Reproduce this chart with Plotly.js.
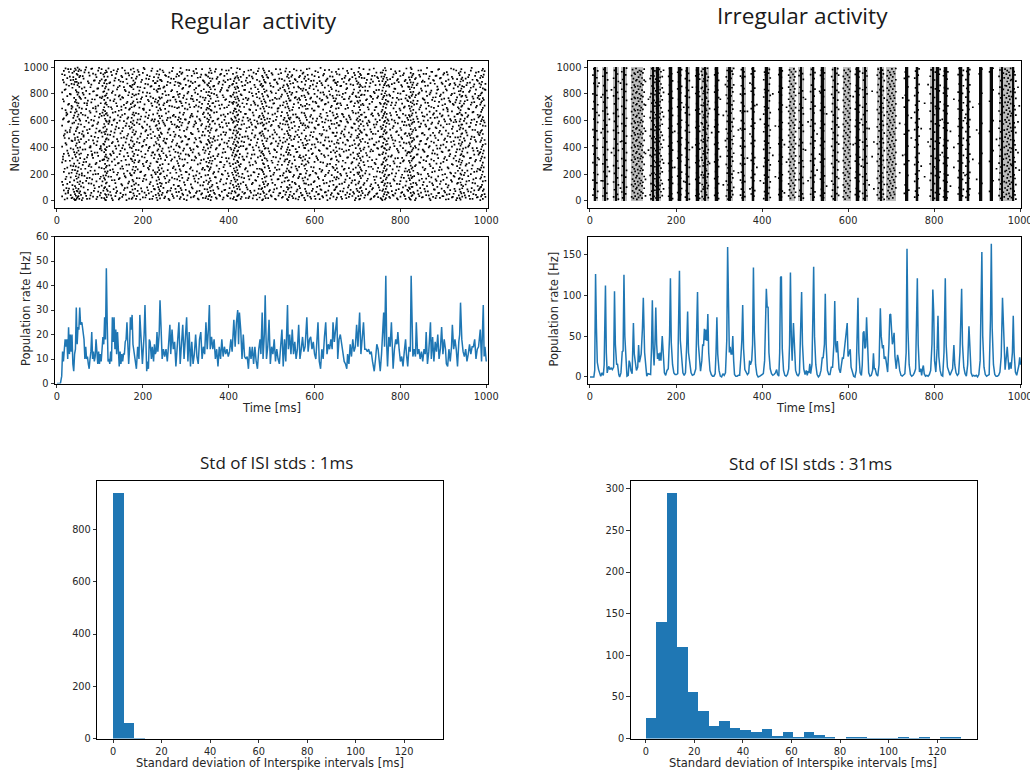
<!DOCTYPE html>
<html><head><meta charset="utf-8">
<script src="https://cdn.plot.ly/plotly-3.0.1.min.js"></script>
<style>html,body{margin:0;padding:0;background:#fff}#c{width:1030px;height:772px}</style>
</head><body><div id="c"></div>
<script>
// Rate curves and histograms are read from the picture. The raster dots are a thinned, hand-typed
// estimate that follows the visible density: single spikes cannot be resolved in the reference.
const histBins=[2.17,6.5,10.83,15.17,19.5,23.83,28.17,32.5,36.83,41.17,45.5,49.83,54.17,58.5,62.83,67.17,71.5,75.83,80.17,84.5,88.83,93.17,97.5,101.83,106.17,110.5,114.83,119.17,123.5,127.83];
const histRegular=[942,58,2,0,0,0,0,0,0,0,0,0,0,0,0,0,0,0,0,0,0,0,0,0,0,0,0,0,0,0];
const histIrregular=[25,140,295,110,56,33,15,21,13,10,8,11,3,8,2,8,4,2,0,2,2,1,1,1,2,1,2,0,2,2];
const rateRegular=[[0,0],[8,0],[11,3],[13,13],[15,9],[17,13],[19,18],[21,15],[23,18],[25,10],[27,23],[29,12],[31,20],[33,13],[35,20],[37,8],[39,5],[41,12],[43,14],[45,31],[47,16],[49,23],[51,22],[53,31],[55,24],[58,25],[60,22],[63,18],[65,10],[67,15],[69,10],[71,11],[73,8],[75,6],[77,10],[79,13],[81,21],[83,10],[85,13],[87,9],[89,11],[91,18],[93,13],[95,8],[97,13],[99,8],[101,12],[103,9],[105,14],[107,19],[109,16],[111,27],[113,18],[115,47],[117,25],[119,9],[121,10],[123,8],[125,13],[127,9],[129,27],[131,17],[133,27],[135,14],[137,22],[139,12],[141,21],[143,10],[145,7],[147,13],[149,8],[151,12],[153,9],[155,12],[157,12],[159,17],[161,18],[163,25],[165,13],[167,8],[169,14],[171,27],[173,22],[175,28],[177,16],[179,13],[182,10],[185,6],[188,15],[191,10],[193,28],[195,20],[197,13],[199,8],[201,14],[203,20],[205,32],[207,12],[209,5],[211,9],[213,6],[215,18],[217,17],[220,10],[222,15],[225,9],[227,16],[229,12],[231,13],[233,21],[235,13],[238,20],[240,34],[242,25],[245,10],[248,14],[251,11],[254,14],[257,9],[260,16],[263,24],[265,12],[268,22],[271,14],[274,17],[277,7],[280,15],[284,25],[287,8],[290,18],[293,24],[296,10],[299,17],[302,27],[305,9],[308,21],[311,7],[314,17],[317,8],[320,12],[323,20],[326,11],[329,8],[332,18],[335,21],[338,10],[341,15],[344,12],[347,25],[350,14],[353,23],[355,32],[357,14],[360,19],[363,14],[366,18],[369,10],[372,14],[375,7],[378,15],[381,10],[384,18],[387,11],[390,15],[393,12],[396,14],[399,11],[402,13],[405,18],[408,13],[412,26],[415,15],[418,25],[421,30],[423,16],[425,29],[428,22],[431,10],[434,20],[437,11],[440,10],[443,11],[446,6],[449,15],[452,10],[455,15],[458,8],[461,15],[464,9],[467,6],[470,14],[473,18],[475,12],[478,29],[480,10],[483,20],[485,36],[488,10],[491,15],[494,26],[497,8],[500,15],[503,12],[506,18],[509,9],[512,14],[515,10],[518,8],[521,15],[524,22],[527,7],[530,18],[533,9],[535,17],[537,32],[539,14],[542,20],[545,12],[548,22],[551,12],[554,17],[557,10],[560,14],[563,24],[566,10],[569,14],[572,19],[575,13],[578,15],[582,27],[585,13],[588,18],[591,19],[594,14],[597,17],[600,12],[603,10],[605,16],[608,25],[611,9],[614,6],[617,14],[620,10],[623,19],[626,25],[629,12],[632,16],[635,14],[638,18],[641,14],[643,25],[646,17],[649,22],[652,27],[654,10],[657,18],[660,20],[663,16],[666,12],[669,9],[672,8],[675,6],[677,12],[680,8],[683,16],[686,11],[689,18],[692,13],[695,15],[698,24],[701,15],[703,20],[705,29],[708,12],[711,18],[714,25],[717,14],[720,14],[723,13],[726,14],[729,12],[732,13],[735,9],[739,5],[742,10],[745,16],[748,14],[751,8],[753,5],[756,12],[759,20],[761,29],[763,15],[766,44],[768,16],[770,7],[773,19],[776,15],[779,25],[781,13],[783,6],[786,14],[789,18],[792,16],[794,21],[797,14],[800,9],[803,11],[806,7],[809,13],[812,18],[814,12],[817,7],[820,15],[823,13],[825,44],[827,25],[829,11],[832,14],[835,11],[837,25],[840,12],[843,14],[846,10],[849,13],[852,9],[855,14],[858,12],[860,21],[863,8],[866,13],[870,25],[872,10],[875,19],[878,9],[881,17],[884,13],[887,20],[890,10],[893,14],[896,23],[899,12],[902,18],[905,14],[907,8],[910,7],[913,14],[916,9],[919,15],[921,24],[924,14],[927,18],[930,14],[933,7],[936,17],[938,20],[940,33],[943,18],[946,13],[949,11],[952,14],[955,9],[958,12],[961,16],[964,12],[967,15],[970,15],[973,18],[976,10],[979,14],[982,15],[984,20],[986,22],[989,9],[991,25],[993,32],[995,11],[997,15],[1000,9]];
const rateIrregular=[[0,0],[9,0],[11,8],[13,126],[15,60],[17,18],[20,9],[23,3],[25,1],[28,5],[31,2],[33,15],[36,112],[38,30],[40,5],[42,10],[44,13],[46,9],[49,11],[52,9],[55,12],[57,105],[59,40],[62,15],[64,16],[67,3],[69,0],[72,5],[75,31],[77,32],[79,125],[81,50],[84,12],[86,1],[89,2],[91,20],[93,17],[95,8],[98,4],[101,66],[103,28],[106,10],[108,8],[111,12],[113,39],[115,18],[117,22],[119,28],[122,60],[124,97],[127,30],[130,8],[132,1],[135,4],[138,3],[141,3],[143,35],[145,94],[147,35],[149,14],[151,40],[153,85],[155,40],[157,22],[159,29],[161,20],[163,30],[165,20],[168,50],[170,25],[173,5],[176,2],[179,8],[182,10],[185,50],[187,121],[189,42],[192,15],[195,5],[198,3],[201,3],[204,4],[206,50],[208,130],[210,45],[213,18],[216,5],[219,2],[222,5],[225,40],[227,80],[229,30],[232,15],[235,5],[238,2],[242,3],[246,10],[248,68],[250,104],[252,40],[255,10],[257,7],[260,20],[262,40],[264,38],[266,59],[268,45],[270,58],[272,44],[274,77],[276,30],[279,8],[282,3],[285,1],[288,1],[291,4],[293,30],[295,73],[297,28],[300,8],[303,1],[306,0],[309,4],[312,2],[315,5],[318,45],[320,159],[322,60],[324,30],[326,37],[328,28],[330,28],[332,50],[334,20],[336,3],[339,1],[342,1],[345,2],[348,2],[351,26],[353,45],[355,88],[357,35],[360,9],[363,6],[366,3],[369,5],[371,20],[373,15],[376,20],[378,40],[380,134],[382,55],[385,15],[388,3],[391,0],[395,1],[399,2],[403,4],[406,20],[408,60],[410,108],[412,85],[414,86],[416,30],[419,10],[422,4],[425,2],[428,3],[431,5],[434,9],[436,3],[439,1],[441,30],[443,122],[445,123],[447,35],[450,8],[453,2],[456,1],[459,3],[462,10],[464,40],[466,128],[468,50],[470,20],[473,66],[475,35],[478,8],[481,3],[484,1],[487,5],[490,60],[492,104],[494,40],[497,10],[500,3],[503,8],[505,2],[507,7],[509,5],[511,16],[513,4],[516,15],[518,70],[520,135],[522,50],[525,15],[528,3],[531,0],[534,2],[537,8],[540,24],[542,23],[545,40],[547,102],[549,40],[552,8],[555,3],[558,3],[561,12],[564,12],[567,40],[569,93],[571,40],[573,30],[575,44],[577,30],[579,10],[582,5],[585,16],[587,24],[589,22],[592,35],[595,50],[598,66],[600,25],[602,30],[605,34],[607,12],[610,5],[613,1],[616,0],[619,8],[621,50],[623,97],[625,30],[628,5],[631,2],[633,15],[635,54],[637,56],[639,35],[641,37],[643,73],[645,35],[648,5],[651,1],[654,2],[657,8],[659,29],[661,10],[663,10],[666,3],[669,1],[672,15],[675,84],[677,50],[680,35],[682,39],[684,22],[687,25],[690,15],[692,6],[695,40],[697,76],[699,77],[701,45],[703,40],[705,45],[707,54],[709,25],[712,10],[715,27],[717,22],[720,8],[723,2],[726,1],[729,2],[732,4],[735,30],[737,157],[739,60],[742,15],[745,3],[748,1],[751,2],[754,5],[757,10],[759,70],[761,121],[763,40],[766,6],[769,10],[771,2],[773,10],[775,14],[777,4],[780,1],[783,2],[786,1],[789,3],[792,8],[795,40],[797,107],[799,80],[801,20],[804,6],[807,35],[809,75],[811,25],[814,8],[817,2],[820,1],[823,30],[826,121],[828,40],[831,12],[834,5],[837,2],[840,6],[843,10],[846,39],[848,15],[851,5],[854,2],[857,4],[860,30],[864,108],[866,40],[869,12],[872,4],[875,1],[878,15],[881,62],[883,30],[886,5],[889,1],[892,2],[895,1],[898,2],[901,0],[904,3],[907,20],[909,80],[911,153],[913,50],[916,12],[919,3],[922,1],[925,2],[928,3],[931,70],[933,163],[935,60],[938,15],[941,3],[944,1],[947,1],[950,2],[953,6],[956,25],[959,97],[961,74],[963,50],[965,9],[968,25],[970,37],[972,22],[974,9],[977,18],[979,10],[982,30],[984,75],[986,30],[989,6],[992,2],[995,8],[997,14],[999,24],[1001,15]];
// each row: [time, neuron, neuron, ...]
const regularSpikes=[
[12,33,142,287,405,563,691,812,947],[16,78,216,352,488,617,744,886,972],[20,54,163,299,431,526,678,835,991],[24,19,127,248,376,512,649,783,918],[28,91,205,338,467,594,726,861,964],[32,42,176,264,392,548,663,797,903,985],[36,25,118,231,318,447,579,702,846,957],[40,12,67,153,278,364,497,585,638,771,872,968],[44,8,38,96,184,257,329,413,522,601,684,755,828,911,979],[48,27,71,139,222,303,396,476,552,629,713,794,865,942,996],[52,15,58,124,196,281,347,439,508,612,697,779,853,926,983],[56,44,108,238,354,462,571,658,762,884,975],[60,21,135,269,383,519,644,807,933],[64,62,187,312,428,553,731,849,961],[68,37,149,291,441,598,686,823,998],[72,83,211,344,506,622,749,894],[76,16,172,273,399,537,672,801,937],[80,59,128,253,371,484,606,736,869,988],[84,31,197,322,453,564,693,818,952],[88,94,226,361,479,633,758,902],[92,13,146,284,417,541,667,789,926],[96,69,201,336,472,587,712,841,974],[100,41,165,297,389,526,651,774,897],[104,22,113,244,378,511,636,768,909,985],[108,76,189,308,426,547,681,815,946],[112,9,51,103,158,219,276,331,387,443,499,556,614,671,728,786,842,899,958],[116,28,86,137,207,262,325,402,468,534,592,657,719,803,876,963],[120,47,181,315,458,576,704,832,991],[124,66,229,349,493,624,752,887],[128,18,154,293,432,569,687,808,941],[132,88,214,357,481,602,746,863,977],[136,35,132,266,409,535,666,792,918],[140,73,195,328,461,583,709,834,969],[144,11,162,283,415,544,674,781,905],[148,57,241,373,504,627,759,893],[152,29,116,258,394,521,642,776,925,995],[156,81,204,333,474,596,718,851],[160,46,175,306,438,561,695,821,954],[164,99,224,359,487,615,741,878],[168,17,143,271,421,558,683,812,938],[172,64,192,316,452,589,724,856,982],[176,24,84,156,233,296,368,445,513,578,646,733,799,868,947],[180,39,121,209,286,351,424,496,567,639,707,788,873,966],[184,14,131,254,381,518,656,795,914],[188,74,236,342,466,608,737,852,979],[192,52,169,301,434,574,698,825,943],[196,93,218,369,503,631,763,889],[200,26,147,277,412,546,689,811,957],[204,61,186,324,457,593,721,844,986],[208,43,159,289,419,529,661,783,915],[212,79,246,375,491,619,755,871],[216,12,125,259,403,555,679,805,932],[220,68,193,339,469,601,729,858,973],[224,34,111,228,363,515,647,769,898],[228,85,213,346,483,609,743,881],[232,23,151,294,427,566,701,826,949],[236,56,102,178,249,313,386,455,528,597,676,748,837,922],[240,19,72,134,199,267,335,408,477,542,618,692,765,839,906,984],[244,45,129,243,372,501,634,772,896],[248,97,221,356,448,586,716,847,962],[252,32,167,304,436,562,688,819,940],[256,63,188,327,464,604,738,866],[260,15,141,274,398,532,668,793,927],[264,77,208,341,492,623,751,883],[268,49,174,311,442,573,706,829,971],[272,21,119,256,384,517,643,778,912],[276,89,234,366,495,628,757,891],[280,36,161,298,429,559,694,816,948],[284,67,112,183,261,332,407,486,551,625,699,777,859,935],[288,28,95,223,353,474,613,742,874,993],[292,54,171,309,446,584,711,838,959],[296,13,138,268,391,524,659,787,908],[300,82,216,348,478,607,734,867],[304,41,155,285,422,549,685,804,936],[308,71,198,337,463,591,722,855,978],[312,26,123,251,379,509,637,764,892],[316,92,227,362,498,632,761,880],[320,38,166,302,435,570,703,831,953],[324,59,191,321,459,582,714,843,987],[328,17,136,272,404,539,669,798,921],[332,75,206,343,471,611,739,864],[336,48,179,305,437,565,696,822,945],[340,22,115,247,382,516,648,773,901],[344,87,232,358,489,626,753,885],[348,33,152,292,425,556,682,814,939],[352,12,65,126,194,255,319,393,456,523,590,654,725,790,862,930],[356,44,98,168,237,300,367,433,510,572,641,708,784,850,917,990],[360,29,107,279,416,543,675,806,955],[364,78,203,334,465,599,732,857],[368,51,177,314,451,577,705,833,967],[372,16,133,263,395,533,664,791,913],[376,91,219,350,485,616,747,877],[380,37,145,290,423,554,690,817,944],[384,69,200,326,460,588,720,845,981],[388,24,122,252,388,514,645,775,899],[392,83,225,365,494,630,756,888],[396,40,164,295,430,560,700,827,951],[400,58,185,317,449,581,715,848,976],[404,19,130,260,397,531,662,785,910],[408,73,210,340,473,605,735,870],[412,27,101,173,242,310,377,440,527,595,673,740,809,895],[416,8,62,144,215,282,345,418,490,557,621,686,760,836,924],[420,35,90,157,230,299,370,444,507,568,640,710,780,854,934,992],[424,47,106,182,265,323,401,468,540,610,677,750,820,904],[428,14,128,275,410,536,665,796,928],[432,66,202,330,476,600,730,860],[436,53,170,307,439,575,702,830,965],[440,21,117,245,385,520,650,770,900],[444,86,220,355,482,620,754,882],[448,31,160,288,420,552,684,813,937],[452,61,190,318,454,585,717,840,980],[456,18,134,270,400,530,660,786,916],[460,76,212,347,475,603,733,868],[464,42,150,283,414,547,678,800,950],[468,56,180,325,462,578,712,835,970],[472,25,114,240,376,505,635,767,894],[476,88,235,360,488,612,744,875],[480,11,70,140,217,280,352,426,500,563,638,704,782,860,923,989],[484,36,104,176,250,320,390,470,538,605,670,745,815,890,960],[488,49,183,313,447,580,708,824,942],[492,20,127,262,392,525,655,779,920],[496,80,224,354,480,614,749,879],[500,33,158,300,431,568,697,810,956],[504,64,196,329,467,596,727,853],[508,15,120,248,380,512,652,771,907],[512,93,231,364,497,629,762,886],[516,39,163,294,428,561,693,828,947],[520,57,187,316,450,579,713,842,983],[524,23,137,269,406,534,663,794,911],[528,74,207,338,472,606,736,864],[532,46,172,308,443,571,699,819,968],[536,12,103,175,241,312,383,458,522,594,658,728,803,872,929],[540,28,96,154,226,287,359,424,491,550,619,691,766,841,919],[544,68,214,344,486,623,752,876],[548,35,142,278,411,544,680,807,941],[552,52,193,331,461,590,724,849,985],[556,17,125,257,387,518,647,776,903],[560,84,228,367,493,627,758,891],[564,30,110,181,254,327,402,477,553,617,695,768,846,925],[568,60,199,322,457,582,718,837,975],[572,43,168,301,434,566,706,825,952],[576,22,131,264,396,528,656,788,914],[580,71,129,205,273,342,419,484,545,624,687,755,830,897],[584,38,161,296,427,558,689,811,943],[588,55,189,319,455,587,719,844,990],[592,16,123,253,389,513,642,772,898],[596,90,222,356,479,615,743,869],[600,34,148,291,422,548,676,801,933],[604,67,204,333,466,597,731,856],[608,48,177,306,440,569,707,826,962],[612,13,112,239,374,502,633,764,895],[616,81,218,351,490,622,750,881],[620,26,155,286,417,551,683,812,938],[624,63,184,328,452,586,721,847,978],[628,41,135,260,393,526,659,781,906],[632,77,209,339,474,601,737,863],[636,19,146,276,409,540,671,795,931],[640,58,192,315,445,576,711,836,964],[644,32,119,246,378,508,640,769,900],[648,86,229,361,483,616,747,884],[652,24,106,178,243,304,371,436,510,583,649,723,792,866,949],[656,50,167,293,430,564,694,818,986],[660,72,201,335,469,599,729,858],[664,15,128,258,386,519,651,777,912],[668,92,233,368,496,628,760,889],[672,44,159,285,421,555,688,808,935],[676,61,186,323,456,592,716,843,972],[680,29,116,244,381,511,637,765,902],[684,82,215,346,478,609,740,871],[688,36,151,289,416,546,674,798,926],[692,54,194,320,453,577,709,833,957],[696,20,121,249,395,527,654,784,915],[700,75,211,349,487,618,746,874],[704,11,65,143,213,281,356,425,499,560,631,701,775,851,928,995],[708,40,100,170,236,303,373,442,515,574,644,717,790,859,940],[712,57,188,330,464,595,726,850],[716,23,132,267,399,532,661,793,918],[720,88,225,358,495,626,754,883],[724,47,165,298,432,565,700,822,948],[728,69,198,326,460,589,725,854,982],[732,17,124,255,384,516,646,778,909],[736,95,238,372,501,635,763,892],[740,37,156,284,418,549,679,806,936],[744,52,181,311,438,572,703,829,960],[748,27,118,247,390,521,653,782,917],[752,79,217,343,476,604,734,870],[756,13,139,271,404,537,667,799,930],[760,33,85,152,223,290,362,433,498,567,636,705,774,848,913,977],[764,10,66,128,197,259,324,391,459,530,598,664,732,805,877,945,994],[768,44,108,174,235,309,379,447,512,581,650,722,789,861,921],[772,59,191,332,468,600,742,865],[776,21,130,261,400,533,657,785,910],[780,73,206,340,473,607,735,873],[784,39,160,295,429,559,692,816,946],[788,55,182,317,451,584,715,838,969],[792,18,127,256,388,520,643,770,901],[796,87,227,363,492,625,757,888],[800,31,147,282,413,545,677,802,934],[804,65,195,321,463,593,728,855],[808,46,171,302,435,567,698,821,954],[812,14,113,242,375,506,639,766,905],[816,83,220,355,485,620,751,880],[820,25,99,169,232,299,365,437,503,570,641,710,780,852,924],[824,8,60,126,190,263,334,408,471,536,603,672,738,813,887,958,997],[828,42,104,179,251,314,382,448,517,585,655,730,797,868,939],[832,56,185,327,458,591,720,845],[836,19,133,268,397,529,660,791,919],[840,76,210,347,482,613,748,878],[844,35,153,288,423,553,685,809,943],[848,62,197,325,449,578,714,839,976],[852,28,120,250,383,507,634,767,899],[856,89,230,366,494,630,756,890],[860,43,166,297,426,557,690,817,950],[864,70,202,336,470,602,733,862],[868,16,141,274,410,541,668,796,932],[872,51,175,310,444,575,702,824,966],[876,30,117,245,377,509,645,773,904],[880,84,221,353,488,621,745,876],[884,38,149,279,414,543,673,804,937],[888,58,183,319,454,580,708,835,981],[892,22,126,252,392,523,652,783,916],[896,91,234,369,497,632,759,885],[900,34,157,292,420,550,682,810,944],[904,63,199,328,465,594,723,857],[908,47,173,305,441,573,696,827,963],[912,12,115,243,376,504,638,768,907],[916,80,212,350,479,612,741,875],[920,26,144,275,405,539,670,800,928],[924,53,187,318,446,588,718,841,984],[928,72,208,337,475,606,737,867],[932,20,129,259,385,522,649,774,911],[936,40,164,293,428,562,691,820,955],[940,9,67,137,204,270,341,412,480,547,611,678,747,823,893,967],[944,31,94,162,228,300,370,439,505,571,640,712,786,858,922],[948,59,192,331,467,598,727,852],[952,24,122,264,398,525,658,787,914],[956,85,226,360,490,628,753,882],[960,37,150,283,415,554,686,815,942],[964,66,200,322,462,583,719,846,974],[968,15,134,265,394,531,662,779,906],[972,78,216,345,477,610,739,872],[976,45,170,307,443,568,699,832,959],[980,28,111,240,374,514,644,771,897],[984,90,235,357,491,633,761,879],[988,33,105,176,248,316,386,452,524,597,665,735,803,870,936],[992,14,74,146,219,286,354,419,500,563,626,695,769,842,925,988],[996,50,180,323,455,586,713,834,970]];
const regularSpikesExtra=[
[14,120,310,330,610,760,905],[18,10,240,470,500,830,940],[22,95,180,420,640,660,870],[26,60,75,355,590,720,985],[30,140,300,515,530,800,930],[34,20,210,450,690,710,875],[38,85,260,385,620,905,925],[42,5,50,110,230,345,455,470,660,740,890,990],[46,18,75,165,205,360,430,540,670,735,815,890,950],[50,35,90,175,250,375,455,575,645,730,810,880,970],[54,70,145,320,400,600,770,935],[58,5,190,205,500,690,840],[62,100,290,480,490,795,915],[66,55,240,385,640,770,980],[70,15,170,325,530,715,730],[74,130,260,455,585,880,960],[78,40,225,400,410,660,850],[82,160,340,350,560,760,990],[86,75,115,430,600,820,900],[90,200,275,510,690,705,945],[94,30,360,445,575,790,840],[98,105,250,520,625,880,995],[102,60,180,395,410,730,955],[106,145,305,480,660,780,860],[110,20,95,170,240,310,365,420,515,575,640,700,755,820,880,930],[114,5,45,130,190,250,345,380,460,520,600,650,735,790,855,905,975],[118,75,220,300,495,640,770,930],[122,110,265,410,590,600,880],[126,40,180,340,520,700,965],[130,5,235,370,440,660,820],[134,155,310,510,610,760,900],[138,60,100,390,555,730,950],[142,210,280,445,640,850,985],[146,20,170,350,600,790,860],[150,125,300,470,680,705,935],[154,45,240,415,545,770,890],[158,95,185,385,650,830,975],[162,5,270,465,580,730,910],[166,130,335,500,625,790,955],[170,65,205,400,540,690,860],[174,15,110,190,310,395,475,550,620,700,775,850,920],[178,55,145,255,335,410,530,600,660,745,835,900,990],[182,90,225,305,500,715,885],[186,35,170,440,585,760,930],[190,120,290,380,650,800,965],[194,10,215,480,610,740,850],[198,70,330,405,555,775,905],[202,165,260,445,680,690,995],[206,25,195,350,520,630,875],[210,100,300,470,570,810,940],[214,55,235,395,640,745,910],[218,140,280,500,535,780,855],[222,15,175,360,610,710,990],[226,90,320,415,595,835,925],[230,45,200,440,560,760,880],[234,5,125,215,290,375,470,540,655,735,815,895,970],[238,40,85,160,230,345,420,490,580,635,720,775,860,945],[242,110,205,315,510,680,905],[246,60,275,390,600,800,975],[250,20,180,465,575,730,855],[254,135,340,430,655,790,935],[258,75,230,510,620,750,890],[262,5,155,370,540,710,960],[266,95,300,405,590,820,915],[270,35,245,455,635,775,995],[274,165,325,480,570,700,865],[278,65,210,415,550,740,930],[282,110,280,360,605,795,885],[286,15,150,235,315,400,530,590,660,745,800,880,965],[290,80,195,440,565,730,950],[294,45,260,375,645,770,845],[298,120,310,485,610,690,915],[302,5,215,420,535,760,980],[306,170,345,460,580,815,900],[310,60,240,395,625,700,860],[314,100,305,500,650,785,935],[318,30,185,385,555,745,970],[322,145,330,470,595,810,890],[326,70,220,410,630,755,955],[330,10,165,355,520,705,860],[334,115,280,445,600,780,925],[338,55,235,490,575,725,985],[342,140,310,400,660,835,895],[346,20,190,375,540,770,945],[350,85,260,420,615,695,870],[354,35,140,225,285,350,445,485,555,605,690,745,815,880,960],[358,5,75,150,250,325,400,470,530,625,680,765,835,895,975],[362,120,300,440,595,730,915],[366,60,215,480,660,800,860],[370,25,175,385,525,745,985],[374,105,335,455,610,775,925],[378,45,240,415,570,715,890],[382,160,290,495,640,830,950],[386,10,195,360,550,790,870],[390,80,270,435,605,695,935],[394,130,320,510,580,760,975],[398,35,205,405,650,825,905],[402,95,280,470,535,740,860],[406,55,150,385,615,780,995],[410,15,120,195,275,360,425,505,585,655,725,795,875,950],[414,70,160,225,330,395,460,550,630,690,775,850,915],[418,5,110,190,250,340,410,475,525,600,665,735,810,880,960],[422,40,125,205,290,375,435,515,590,645,720,765,845,920],[426,85,255,350,495,705,985],[430,30,175,445,570,790,890],[434,140,310,410,625,760,945],[438,60,235,480,650,830,865],[442,100,330,390,545,725,920],[446,20,185,465,600,765,975],[450,75,265,420,610,680,890],[454,125,345,505,570,805,930],[458,40,215,380,640,745,960],[462,155,295,490,555,720,850],[466,10,240,435,595,775,905],[470,90,200,400,625,815,990],[474,50,335,510,580,690,865],[478,5,95,165,230,305,370,450,520,585,655,725,800,855,935],[482,60,125,200,275,340,410,485,570,625,690,760,835,905,975],[486,20,145,395,540,735,885],[490,115,300,465,615,790,925],[494,70,245,370,590,700,970],[498,40,185,425,560,820,860],[502,135,285,495,645,755,945],[506,85,210,385,530,730,905],[510,10,325,445,605,805,985],[514,160,270,410,670,690,875],[518,55,235,475,550,765,915],[522,105,345,390,635,780,955],[526,30,190,435,575,715,850],[530,145,295,500,620,830,900],[534,65,220,365,595,745,990],[538,5,85,150,270,345,400,505,570,640,705,785,860,945],[542,45,120,215,300,380,470,530,610,675,750,815,895,965],[546,100,250,455,585,795,930],[550,20,180,410,645,700,880],[554,135,305,480,560,770,910],[558,70,240,365,625,815,975],[562,10,170,440,530,735,855],[566,95,200,340,600,755,935],[570,40,275,505,660,785,890],[574,150,330,415,580,840,960],[578,5,90,175,240,310,395,465,565,640,710,775,870,930],[582,55,225,450,605,725,985],[586,120,285,375,550,800,910],[590,30,195,490,630,765,860],[594,75,350,420,585,690,945],[598,140,250,515,675,835,900],[602,15,210,400,540,740,970],[606,105,320,460,615,780,880],[610,50,165,380,570,705,925],[614,85,290,435,650,810,995],[618,35,230,500,590,755,865],[622,130,340,415,530,795,950],[626,65,195,475,610,725,895],[630,5,275,390,635,770,915],[634,110,225,445,555,820,980],[638,45,310,365,600,700,850],[642,150,255,510,660,785,930],[646,80,175,425,575,745,905],[650,10,100,160,270,330,400,485,545,620,690,765,825,880,965],[654,55,215,455,630,730,890],[658,125,345,390,565,790,945],[662,30,190,505,595,715,860],[666,70,300,435,645,800,990],[670,140,240,480,535,760,920],[674,20,205,375,610,835,875],[678,100,325,450,585,695,955],[682,50,170,410,625,780,910],[686,135,280,495,550,745,985],[690,65,235,360,660,810,865],[694,5,155,425,575,730,940],[698,90,310,470,605,775,895],[702,35,130,200,265,335,415,475,540,595,660,735,810,885,965],[706,15,95,185,250,320,390,455,525,605,680,750,825,870,950],[710,75,225,510,645,795,920],[714,120,290,385,560,715,985],[718,40,205,440,625,825,855],[722,150,340,490,580,760,905],[726,60,255,405,600,685,950],[730,10,110,370,535,785,880],[734,85,305,465,655,740,935],[738,30,180,420,570,815,990],[742,135,275,500,610,700,865],[746,55,220,395,590,770,925],[750,100,345,445,640,830,895],[754,20,170,480,555,725,960],[758,5,75,140,210,275,350,410,480,545,620,680,760,825,895,960],[762,50,115,185,245,315,395,465,520,590,650,725,785,865,930],[766,20,90,160,225,300,355,420,505,555,625,695,755,820,890,975],[770,65,135,270,425,610,745,905],[774,30,195,385,575,795,855],[778,110,330,490,640,715,985],[782,45,235,455,545,770,925],[786,150,280,410,600,840,880],[790,80,205,515,665,735,955],[794,10,320,375,580,805,910],[798,125,255,440,620,690,970],[802,60,175,475,530,760,865],[806,100,295,395,650,820,940],[810,35,220,500,590,705,895],[814,145,340,430,565,790,990],[818,75,190,365,605,745,855],[822,15,90,155,215,285,360,425,490,560,630,690,770,835,905],[826,35,105,170,240,300,370,440,500,575,640,705,785,850,925,985],[830,65,135,225,320,395,470,530,610,680,750,815,885,950],[834,5,260,410,545,775,910],[838,120,345,480,630,725,865],[842,50,200,385,590,800,975],[846,95,285,445,555,700,930],[850,25,165,505,660,825,890],[854,140,305,375,600,760,950],[858,70,240,425,570,735,860],[862,110,330,460,645,785,995],[866,40,185,400,535,710,915],[870,5,260,490,620,810,880],[874,130,215,355,585,755,965],[878,85,300,435,655,695,900],[882,20,160,470,550,775,935],[886,105,345,390,625,830,855],[890,60,230,510,595,740,985],[894,145,280,415,565,795,920],[898,35,195,365,640,715,875],[902,75,315,455,610,765,955],[906,10,125,400,525,835,895],[910,100,250,485,670,685,945],[914,50,335,380,575,750,865],[918,155,205,440,600,790,990],[922,30,270,505,555,725,915],[926,90,180,420,630,805,880],[930,5,300,365,590,755,975],[934,135,225,475,650,700,855],[938,20,85,170,245,310,385,455,535,595,660,730,795,870,940],[942,55,120,195,285,350,425,500,570,645,705,780,840,910,985],[946,110,335,390,540,815,900],[950,40,210,450,615,745,960],[954,145,275,510,580,775,865],[958,70,185,405,640,690,925],[962,15,320,430,555,825,885],[966,95,240,480,605,735,995],[970,50,160,375,665,765,855],[974,130,295,455,530,800,935],[978,25,220,395,590,710,905],[982,80,345,500,625,785,965],[986,5,100,165,230,300,365,440,510,575,640,720,790,850,920],[990,45,120,195,265,330,405,470,530,610,680,745,810,890,975],[994,85,250,375,600,755,945],[998,30,150,425,560,830,875]];
const irregularSpikes=[
[7,42,155,286,412,533,688,801,940],[9,88,210,349,476,612,743,879,988],[16,23,134,268,395,524,661,790,921],[18,71,197,322,458,587,719,856,972],[21,310,640,880],[26,510,150,775],
[30,36,149,277,401,539,672,795,932],[32,95,218,346,469,601,738,862,984],[39,58,183,307,441,566,697,824,958],[41,14,126,254,383,518,649,771,905],[45,220,610],[50,830,360],
[55,29,141,263,392,527,654,786,917],[57,83,206,339,462,594,726,848,976],[64,48,172,298,425,557,683,812,949],[66,12,119,245,377,509,632,764,893],[71,442,880,95],
[74,66,190,315,447,578,706,835,966],[76,22,137,259,388,521,647,776,908],[83,52,178,303,431,561,691,818,943],[85,103,228,361,484,618,751,871,993],
[97,30,121,212,305,398,486,577,668,761,846,937],[99,75,163,252,344,435,523,614,707,797,888,982],[101,18,108,196,289,374,465,552,643,733,824,914],[103,62,148,239,328,417,508,596,685,774,866,955],[105,35,127,221,312,403,494,583,674,766,852,947],[107,89,174,268,357,449,538,628,719,808,899,990],[109,11,98,186,277,366,456,546,637,725,815,906],[111,54,143,234,321,411,501,590,680,770,859,963],[113,26,116,205,296,386,475,564,655,745,835,926],[115,80,168,257,350,438,529,620,711,801,892,975],[117,41,131,225,316,405,497,585,676,763,855,944],[119,67,152,243,334,426,515,604,698,787,877,968],[121,20,112,201,291,380,470,559,650,740,829,919],[123,58,139,230,325,414,503,593,684,779,868,957],[126,94,182,273,362,453,542,633,722,813,903,985],[129,37,160,354,521,716,893],
[136,380,760],[140,45,190,340,485,622,777,915],[142,14,129,262,397,534,668,802,936],[144,73,203,331,467,598,731,859,989],[149,33,118,208,299,391,478,569,661,752,841,934],[151,79,165,255,346,437,527,617,708,795,886,972],[153,21,107,197,287,376,463,553,644,735,822,911],[155,60,146,236,326,416,507,599,689,780,869,960],[159,43,134,222,313,402,492,581,671,762,853,945],[161,86,176,264,355,445,535,625,714,805,896,983],[163,25,115,204,294,384,473,562,652,743,832,923],[165,68,154,244,336,424,514,607,695,784,874,966],[168,39,128,217,308,399,489,573,664,755,845,930],[171,90,282,455,630,811,977],
[183,34,157,280,409,543,675,799,931],[185,97,224,352,480,609,742,865,990],[190,53,177,300,433,560,692,819,951],[192,16,130,249,379,512,640,769,898],[197,520,250],[204,61,185,319,444,575,703,837,962],[206,10,123,241,370,506,635,759,890],[211,47,169,295,421,549,682,808,939],[213,92,214,343,471,603,734,857,981],[218,145,700],
[222,28,140,266,393,525,658,783,914],[224,77,199,327,459,588,720,847,973],[229,55,181,309,436,565,699,826,953],[231,13,125,251,382,513,645,774,900],[238,400,850],
[246,38,161,285,418,547,679,803,935],[248,84,209,337,464,592,728,851,978],[253,50,175,301,429,558,687,816,947],[255,19,133,258,387,519,651,781,910],[259,70,194,324,452,584,715,842,969],
[261,32,122,213,304,396,487,576,667,758,849,940],[263,87,173,261,351,441,531,622,712,803,894,986],[265,15,104,192,283,372,461,551,642,732,821,913],[269,63,151,240,330,420,510,600,690,778,870,959],[271,44,135,226,317,407,498,587,677,768,857,949],[273,93,179,270,359,450,540,630,720,810,900,992],[275,24,113,202,293,383,472,563,653,744,833,925],
[278,280,690],[283,510],[290,40,166,292,423,553,684,813,942],[292,96,219,347,474,605,737,860,985],[297,57,180,306,434,570,700,828,956],[299,17,128,256,389,516,646,772,902],[303,330,760],[310,640,120],[315,450,870],
[317,36,147,272,404,536,669,792,928],[319,81,207,335,466,595,729,854,975],[321,12,120,247,375,504,638,767,897],[323,59,184,311,440,571,702,830,961],[328,27,138,260,390,522,656,785,916],[330,74,200,329,457,589,718,846,971],[332,46,171,297,427,555,686,815,948],[334,101,223,356,483,615,747,868,991],
[345,530,210],[350,42,155,279,410,540,673,798,933],[352,88,215,342,470,600,735,861,982],[354,22,136,265,394,528,659,788,920],[358,65,188,318,448,579,708,839,965],[360,31,144,274,406,537,670,800,929],[366,670,320],[372,500,90,880],
[375,51,174,302,430,559,690,820,950],[377,98,227,353,481,611,741,872,987],[381,35,150,276,408,541,665,794,926],[383,76,198,323,451,582,713,843,970],[388,250,720],[396,610,150],
[404,16,132,257,385,517,648,777,906],[406,69,193,320,446,574,704,833,963],[408,40,164,288,419,550,681,809,943],[415,55,178,305,432,563,694,825,955],[417,99,229,358,486,616,748,873,984],[419,25,142,269,397,530,660,789,919],[425,340,800],[431,560,180],
[439,47,170,296,426,556,685,814,944],[441,85,211,345,473,602,733,858,979],[445,30,149,275,402,535,666,791,924],[447,72,195,328,455,586,717,844,972],[452,420,60],[457,700,290],
[462,37,127,218,310,401,490,580,670,760,851,941],[464,82,172,263,353,443,533,623,713,804,895,980],[466,18,110,200,290,381,471,561,651,741,831,922],[468,61,153,242,333,422,512,601,692,782,873,964],[472,43,133,224,314,404,495,585,675,765,856,946],[474,91,181,271,360,452,543,634,724,814,904,988],[476,26,116,206,298,388,477,567,657,747,838,927],[478,64,156,246,337,428,518,608,698,788,879,967],
[486,34,158,284,413,544,676,805,937],[488,78,204,332,460,591,723,850,974],[494,52,176,300,435,566,696,823,952],[496,20,131,255,386,520,650,773,909],[501,380,760],[507,150,590],
[513,49,173,299,428,558,688,817,945],[515,94,220,348,477,606,739,866,983],[521,28,141,267,396,526,657,784,915],[523,67,191,316,449,577,709,836,960],[528,500,230],[534,820,350],
[536,39,162,289,415,545,677,807,938],[538,86,212,341,468,597,730,855,977],[543,23,137,258,391,523,652,780,912],[545,58,186,313,443,572,701,829,958],[550,650,110],
[562,33,148,278,407,538,668,796,930],[564,80,205,336,463,593,727,852,981],[566,15,124,250,378,511,641,770,901],[574,54,179,304,437,568,699,827,954],[576,100,231,362,490,619,753,875,989],[578,41,167,293,424,552,684,812,941],
[589,29,119,209,301,392,482,572,662,752,842,931],[591,75,165,253,347,436,526,616,706,796,887,976],[593,13,103,193,284,373,464,554,644,734,823,912],[595,60,147,237,327,418,509,598,689,777,867,957],[599,38,129,219,311,400,491,582,672,761,853,942],[601,89,177,266,358,447,537,627,717,807,897,984],[603,24,114,203,292,382,474,562,654,746,834,924],[605,68,152,244,335,425,516,605,693,786,876,968],
[612,420,780],[617,47,172,297,429,557,686,818,946],[619,92,217,346,475,604,736,863,986],[625,31,145,272,403,534,664,793,925],[627,71,196,326,454,583,714,841,969],[631,260,610],
[634,56,180,308,439,569,700,831,955],[636,17,126,252,384,515,645,775,903],[642,79,201,330,461,590,725,848,973],[644,36,154,281,411,542,674,801,934],[649,540,120],[656,820,330],
[660,440,90],[668,44,168,295,426,554,683,811,940],[670,95,222,350,478,610,744,869,985],[672,19,135,261,390,524,655,782,914],[674,63,187,314,442,573,703,832,959],[678,28,143,270,399,531,663,791,923],[680,84,208,338,465,596,730,854,978],[682,50,175,302,433,564,695,825,950],[684,11,122,248,376,507,639,768,899],
[691,32,123,214,306,395,485,574,665,754,844,935],[693,77,166,256,348,439,528,618,709,799,889,975],[695,16,105,195,286,375,466,555,646,736,826,916],[697,59,150,238,329,419,511,602,691,781,871,961],[699,40,130,220,310,402,493,584,673,764,855,943],[702,90,178,268,356,448,539,629,718,806,898,987],[704,22,112,201,291,385,476,565,656,745,836,927],[706,66,157,245,339,427,517,608,697,788,878,966],[708,48,139,228,319,410,500,588,678,769,858,951],[711,97,182,274,363,454,544,635,726,816,906,990],
[720,580,210],[727,340,770],[731,56,272,498,701,916],[733,120,345,571,790,964],[739,190,410,640,852],[741,80,300,525,752,930],[747,620,470],
[755,27,146,271,401,532,662,787,918],[757,73,199,325,456,585,716,845,970],[763,42,165,290,420,551,680,810,941],[765,96,225,355,484,613,745,872,988],[770,540,260],[778,730,180],[786,440,870],
[791,35,153,277,408,539,671,800,932],[793,81,206,334,462,594,732,849,980],[801,19,128,254,388,514,644,773,904],[803,62,189,317,445,576,707,837,963],[805,240,690],
[812,49,176,303,431,562,690,822,947],[814,93,216,343,472,603,740,864,984],[819,360,610],[822,30,151,280,413,546,675,806,936],[824,76,202,331,459,587,722,847,971],[830,22,140,264,394,527,653,786,911],[832,68,192,321,450,581,711,840,965],[838,520,110],[846,400,760,250],
[856,51,174,298,427,556,687,813,944],[858,99,226,354,486,614,749,874,990],[866,37,161,283,416,548,678,804,939],[868,85,210,340,468,599,734,861,976],[872,620,190],
[874,26,134,259,386,518,647,776,907],[876,70,197,322,453,580,712,842,968],[881,44,169,294,422,553,684,815,946],[883,90,213,349,479,607,742,867,982],[890,310,700],[899,530,160],
[905,55,280,505,725,950],[911,130,355,580,805,985],[929,70,295,520,745,965],[937,150,375,600,830,992],[945,460,240],
[951,39,158,282,414,543,672,802,931],[953,87,208,335,467,596,733,851,979],[955,18,127,253,383,516,646,771,900],[961,64,185,312,444,575,705,834,956],[963,30,144,269,400,529,660,790,920],[965,96,221,347,476,606,737,863,986],
[968,48,136,227,318,409,499,589,679,770,860,948],[970,80,171,262,352,442,534,624,715,805,893,974],[972,14,109,198,288,378,467,558,648,739,828,918],[974,56,149,241,332,423,513,603,694,783,875,962],[976,33,125,216,307,397,488,578,669,759,850,938],[978,91,180,275,364,457,547,636,727,817,902,991],
[980,24,138,265,392,522,655,779,908],[986,72,194,324,451,583,710,838,967],[988,45,167,291,418,550,682,811,942],[990,12,121,247,381,510,641,766,896],[995,590,360,850],[998,230,710]];
const burstCenter=[12,35,60,79,146,157,187,208,226,250,267,294,325,356,379,411,443,491,518,541,570,622,639,676,736,760,797,808,826,862,878,908,933,957,983];
const burstCoreWidth=[6,6,5,6,5,5,6,5,5,5,4,5,7,5,5,7,5,6,5,6,6,5,5,5,6,6,6,5,6,6,5,6,6,5,5];
const diffuseCenter=[12,35,60,79,110,153,187,208,226,250,267,294,325,356,379,411,443,470,491,518,541,570,597,622,639,676,700,736,760,797,808,826,862,878,908,933,957,970,983];
const diffuseWidth=[12,12,13,12,28,26,13,11,12,13,20,11,16,12,11,15,11,14,13,11,14,15,18,12,13,16,22,9,10,12,10,12,12,10,9,10,12,16,12];
const xTicks=[0,200,400,600,800,1000];
const histXTicks=[0,20,40,60,80,100,120];

const W=1030,H=772,blue='#1f77b4',ink='#262626';
const dx=(a,b)=>[a/W,b/W];
const dy=(t,b)=>[1-(b+0.5)/H,1-(t+0.5)/H];
const expand=rows=>{const x=[],y=[];rows.forEach(r=>r.slice(1).forEach(n=>{x.push(r[0]);y.push(n);}));return {x,y};};
const axisBase={showline:true,mirror:true,linecolor:'#000',linewidth:1,ticks:'outside',ticklen:3.5,tickwidth:1,tickcolor:'#333',ticklabeloverflow:'allow',
  showgrid:false,zeroline:false,tickfont:{family:'DejaVu Sans',size:9.8,color:ink},automargin:false};
const ax=extra=>Object.assign({},axisBase,extra);
const dot={color:'#000',size:1.7,symbol:'square',line:{width:0}};
const r1=expand(regularSpikes.concat(regularSpikesExtra)),r2=expand(irregularSpikes);
const fill=(a)=>a.map(()=>1000);
const data=[
 {type:'scatter',mode:'markers',x:r1.x,y:r1.y,marker:dot,xaxis:'x',yaxis:'y'},
 {type:'bar',x:diffuseCenter,y:fill(diffuseCenter),width:diffuseWidth,marker:{color:'#bdbdbd',line:{width:0}},xaxis:'x2',yaxis:'y2'},
 {type:'bar',x:burstCenter,y:fill(burstCenter),width:burstCoreWidth,marker:{color:'#0a0a0a',line:{width:0}},xaxis:'x2',yaxis:'y2'},
 {type:'scatter',mode:'markers',x:r2.x,y:r2.y,marker:dot,xaxis:'x2',yaxis:'y2'},
 {type:'scatter',mode:'lines',x:rateRegular.map(p=>p[0]),y:rateRegular.map(p=>p[1]),line:{color:blue,width:1.5},xaxis:'x3',yaxis:'y3'},
 {type:'scatter',mode:'lines',x:rateIrregular.map(p=>p[0]),y:rateIrregular.map(p=>p[1]),line:{color:blue,width:1.5},xaxis:'x4',yaxis:'y4'},
 {type:'bar',x:histBins,y:histRegular,width:4.33,marker:{color:blue,line:{width:0}},xaxis:'x5',yaxis:'y5'},
 {type:'bar',x:histBins,y:histIrregular,width:4.33,marker:{color:blue,line:{width:0}},xaxis:'x6',yaxis:'y6'}
];
const tx=t=>({tickmode:'array',tickvals:t,ticktext:t.map(String)});
const title=(text,x,y,size)=>({text,x:x/W,y:1-y/H,xref:'paper',yref:'paper',xanchor:'center',yanchor:'middle',showarrow:false,font:{family:'Open Sans',size,color:'#1a1a1a'}});
const axisLabel=(text,x,y,angle)=>({text,x:x/W,y:1-y/H,xref:'paper',yref:'paper',xanchor:'center',yanchor:'middle',showarrow:false,textangle:angle||0,font:{family:'DejaVu Sans',size:11.5,color:ink}});
const layout={width:W,height:H,margin:{l:0,r:0,t:0,b:0},paper_bgcolor:'#fff',plot_bgcolor:'#fff',showlegend:false,bargap:0,barmode:'overlay',
 xaxis:ax(Object.assign({domain:dx(55,488),range:[-4.6,1004],anchor:'y'},tx(xTicks))),
 yaxis:ax({domain:dy(60,207),range:[-50,1050],anchor:'x',tickvals:[0,200,400,600,800,1000]}),
 xaxis2:ax(Object.assign({domain:dx(588,1021),range:[-4.6,1002],anchor:'y2'},tx(xTicks))),
 yaxis2:ax({domain:dy(60,207),range:[-50,1050],anchor:'x2',tickvals:[0,200,400,600,800,1000]}),
 xaxis3:ax(Object.assign({domain:dx(55,488),range:[-4.6,1004],anchor:'y3'},tx(xTicks))),
 yaxis3:ax({domain:dy(236,383),range:[0,60],anchor:'x3',tickvals:[0,10,20,30,40,50,60]}),
 xaxis4:ax(Object.assign({domain:dx(588,1021),range:[-4.6,1002],anchor:'y4'},tx(xTicks))),
 yaxis4:ax({domain:dy(236,383),range:[-8,172],anchor:'x4',tickvals:[0,50,100,150]}),
 xaxis5:ax(Object.assign({domain:dx(97.3,443),range:[-6.5,136],anchor:'y5'},tx(histXTicks))),
 yaxis5:ax({domain:dy(480,738),range:[0,988],anchor:'x5',tickvals:[0,200,400,600,800]}),
 xaxis6:ax(Object.assign({domain:dx(630.7,977),range:[-6.2,136.4],anchor:'y6'},tx(histXTicks))),
 yaxis6:ax({domain:dy(480,738),range:[0,310],anchor:'x6',tickvals:[0,50,100,150,200,250,300]}),
 annotations:[title('Regular  activity',253,21,22.7),title('Irregular activity',802,15.5,22.6),title('Std of ISI stds : 1ms',276,462,17),title('Std of ISI stds : 31ms',810,463,17),
  axisLabel('Neuron index',14.5,133,-90),axisLabel('Neuron index',547.5,133,-90),axisLabel('Population rate [Hz]',26,309,-90),axisLabel('Population rate [Hz]',553.5,309,-90),
  axisLabel('Time [ms]',271,407.5),axisLabel('Time [ms]',805,407.5),
  axisLabel('Standard deviation of Interspike intervals [ms]',270,762.5),axisLabel('Standard deviation of Interspike intervals [ms]',803,762.5)]
};
Plotly.newPlot('c',data,layout,{displayModeBar:false,staticPlot:true});
</script></body></html>
